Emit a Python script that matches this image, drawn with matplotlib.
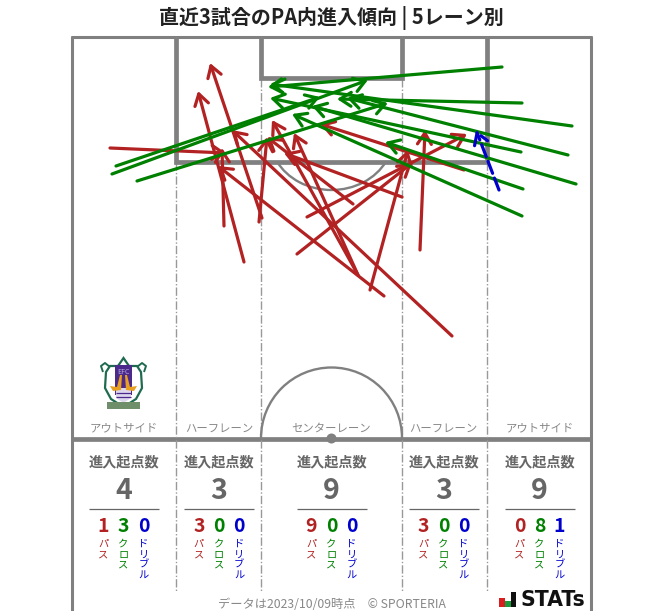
import matplotlib
matplotlib.use("Agg")
from matplotlib import pyplot as plt
from matplotlib.patches import Arc, Polygon, Rectangle, Ellipse

plt.rcParams['font.family'] = ['Noto Sans CJK JP', 'DejaVu Sans']
plt.rcParams['lines.solid_capstyle'] = 'butt'

# arrows (pixel positions of the pitch drawing)
pass_x0 = [244, 262, 224, 110, 452, 384, 370, 420, 297, 307, 464, 402, 353, 259, 358, 358]
pass_y0 = [262, 218, 226, 148, 336, 296, 290, 250, 254, 217, 170, 197, 204, 222, 275, 275]
pass_x1 = [198, 210, 222, 226, 232, 218, 408, 425, 412, 467, 320, 284, 267, 267, 272, 294]
pass_y1 = [91, 63, 148, 153, 130, 166, 150, 130, 163, 134, 124, 153, 137, 137, 120, 133]

cross_x0 = [112, 116, 137, 502, 572, 522, 568, 521, 576, 523, 522]
cross_y0 = [174, 166, 181, 67, 126, 103, 155, 152, 184, 189, 216]
cross_x1 = [368, 320, 388, 268, 270, 337, 347, 270, 312, 385, 292]
cross_y1 = [80, 97, 103, 87, 84, 99, 98, 98, 106, 142, 114]

dribble_x0 = [499]
dribble_y0 = [190]
dribble_x1 = [476]
dribble_y1 = [130]

lane_names = ['アウトサイド', 'ハーフレーン', 'センターレーン', 'ハーフレーン', 'アウトサイド']
lane_centers = [123.5, 219, 331.5, 443.5, 539.5]
lane_totals = [4, 3, 9, 3, 9]
lane_pass = [1, 3, 9, 3, 0]
lane_cross = [3, 0, 0, 0, 8]
lane_dribble = [0, 0, 0, 0, 1]

RED = '#b22222'
GREEN = '#008000'
BLUE = '#0000cd'
LINE = '#808080'
TEXT = '#666666'


def draw_arrows(ax, x0, y0, x1, y1, color, ls='-'):
    for a, b, c, d in zip(x0, y0, x1, y1):
        ax.annotate('', xy=(c, d), xytext=(a, b),
                    arrowprops=dict(arrowstyle='->,head_length=0.8,head_width=0.5',
                                    mutation_scale=10, color=color, lw=2.3, ls=ls,
                                    shrinkA=0, shrinkB=0, capstyle='round'))


def stacked(ax, x, y, word, color):
    for i, ch in enumerate(word):
        ax.text(x, y + i * 10.4, ch, color=color, fontsize=7.4, ha='center', va='center')


def draw_crest(ax):
    dark = '#1f6b4f'
    # side curls and outline
    ax.plot([103, 101, 105, 110], [372, 366, 363, 367], color=dark, lw=1.4, zorder=3)
    ax.plot([144, 146, 142, 137], [372, 366, 363, 367], color=dark, lw=1.4, zorder=3)
    ax.add_patch(Polygon([(110, 366), (118, 366), (123.5, 358), (129, 366), (137, 366), (141, 372), (142, 388),
                          (136, 399), (123.5, 407), (111, 399), (105, 388), (106, 372)],
                         fc='white', ec=dark, lw=1.6, zorder=3))
    ax.add_patch(Rectangle((115, 365), 17, 30, fc='#4b2a8c', ec='none', zorder=4))
    ax.add_patch(Polygon([(116, 388), (131, 388), (131, 398), (123.5, 403), (116, 398)], fc='#ddd8ee', ec='none', zorder=4))
    ax.plot([116, 131], [393, 393], color='#4b2a8c', lw=0.9, zorder=5)
    ax.plot([116, 131], [397, 397], color='#4b2a8c', lw=0.9, zorder=5)
    # birds
    ax.add_patch(Polygon([(110, 386), (117, 387), (120, 375), (122, 375), (121, 390), (113, 391)], fc='#e8a020', ec='none', zorder=5))
    ax.add_patch(Polygon([(137, 386), (130, 387), (127, 375), (125, 375), (126, 390), (134, 391)], fc='#e8a020', ec='none', zorder=5))
    ax.add_patch(Rectangle((107, 402), 33, 7, fc='#6f8f6a', ec='none', zorder=5))
    ax.text(123.5, 372, 'EFC', color='#b9a8dc', fontsize=5, ha='center', va='center', zorder=6)


fig = plt.figure(figsize=(6.63, 6.11), dpi=100)
ax = fig.add_axes([0, 0, 1, 1])
ax.set_xlim(0, 663)
ax.set_ylim(611, 0)
ax.axis('off')

# frame and pitch
ax.plot([72, 72], [36, 611], color=LINE, lw=2.2, zorder=1)
ax.plot([591, 591], [36, 611], color=LINE, lw=2.2, zorder=1)
ax.plot([71, 592], [37, 37], color=LINE, lw=2.2, zorder=1)
ax.plot([71, 592], [438.5, 438.5], color=LINE, lw=3.4, zorder=1)
for x in [176, 261, 402, 487]:
    ax.plot([x, x], [37, 592], color='#999999', lw=1, ls=(0, (6, 1.5, 1, 1.5)), zorder=1)
ax.plot([176, 176, 487, 487], [37, 162, 162, 37], color=LINE, lw=3.4, solid_joinstyle='miter', zorder=1)
ax.plot([261, 261, 402, 402], [37, 78, 78, 37], color=LINE, lw=3.4, solid_joinstyle='miter', zorder=1)
ax.add_patch(Arc((331.5, 438), 141, 141, theta1=180, theta2=360, color=LINE, lw=1.7, zorder=1))
ax.add_patch(Arc((331.5, 137), 123, 106, theta1=24, theta2=156, color=LINE, lw=1.7, zorder=1))
ax.add_patch(Ellipse((331.5, 438.5), 10, 10, fc=LINE, ec='none', zorder=1))

draw_arrows(ax, pass_x0, pass_y0, pass_x1, pass_y1, RED)
draw_arrows(ax, cross_x0, cross_y0, cross_x1, cross_y1, GREEN)
draw_arrows(ax, dribble_x0, dribble_y0, dribble_x1, dribble_y1, BLUE, ls=(0, (4, 1.6)))

draw_crest(ax)

ax.text(331, 18, '直近3試合のPA内進入傾向 | 5レーン別', fontsize=14.4, fontweight='bold',
        color='#222222', ha='center', va='center')

for i, cx in enumerate(lane_centers):
    ax.text(cx, 428.5, lane_names[i], color='#888888', fontsize=8.2, ha='center', va='center')
    ax.text(cx, 462, '進入起点数', color=TEXT, fontsize=10.2, fontweight='bold', ha='center', va='center')
    ax.text(cx, 491, str(lane_totals[i]), color=TEXT, fontsize=20.5, fontweight='bold', ha='center', va='center')
    ax.plot([cx - 35, cx + 35], [508.5, 508.5], color=TEXT, lw=0.9)
    ax.text(cx - 20, 526, str(lane_pass[i]), color=RED, fontsize=14, fontweight='bold', ha='center', va='center')
    ax.text(cx, 526, str(lane_cross[i]), color=GREEN, fontsize=14, fontweight='bold', ha='center', va='center')
    ax.text(cx + 20, 526, str(lane_dribble[i]), color=BLUE, fontsize=14, fontweight='bold', ha='center', va='center')
    stacked(ax, cx - 20, 544, 'パス', RED)
    stacked(ax, cx, 544, 'クロス', GREEN)
    stacked(ax, cx + 20, 544, 'ドリブル', BLUE)

ax.text(331.5, 604, 'データは2023/10/09時点　© SPORTERIA', color='#888888', fontsize=8.8, ha='center', va='center')

# STATs mark
ax.add_patch(Rectangle((499, 598), 6, 9, fc='#d81e1e', ec='none'))
ax.add_patch(Rectangle((505, 601), 6, 6, fc='#1a9a3a', ec='none'))
ax.add_patch(Rectangle((511, 592), 5, 15, fc='#111111', ec='none'))
ax.text(521, 600.5, 'STATs', color='#111111', fontsize=14.8, fontweight='bold', ha='left', va='center',
        family='DejaVu Sans')

fig.savefig('out.png', dpi=100)
